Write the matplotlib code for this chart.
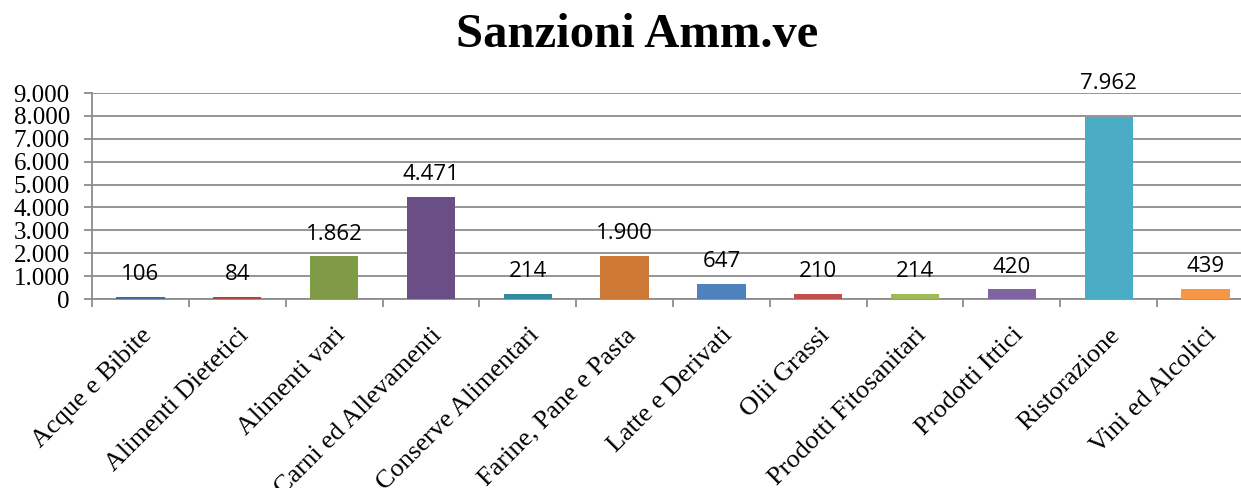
import matplotlib
matplotlib.use("Agg")
import matplotlib.pyplot as plt
from matplotlib.ticker import FuncFormatter

categories = ["Acque e Bibite", "Alimenti Dietetici", "Alimenti vari",
              "Carni ed Allevamenti", "Conserve Alimentari", "Farine, Pane e Pasta",
              "Latte e Derivati", "Olii Grassi", "Prodotti Fitosanitari",
              "Prodotti Ittici", "Ristorazione", "Vini ed Alcolici"]
values = [106, 84, 1862, 4471, 214, 1900, 647, 210, 214, 420, 7962, 439]
colors = ["#43699C", "#A9443F", "#7F9B48", "#6A4E86", "#338BA0", "#CD7935",
          "#4F81BD", "#C0504D", "#9BBB59", "#8064A2", "#4BACC6", "#F79646"]
title = "Sanzioni Amm.ve"

def fmt_it(v):
    return f"{int(round(v)):,}".replace(",", ".")

fig = plt.figure(figsize=(12.41, 4.88), dpi=100)
ax = fig.add_axes([92 / 1241, 1 - 299 / 488, (1254 - 92) / 1241, (299 - 93) / 488])

x = list(range(len(categories)))
ax.bar(x, values, width=0.5, color=colors, zorder=3)
ax.set_xlim(-0.5, len(categories) - 0.5)
ax.set_ylim(0, 9000)
ax.set_yticks(range(0, 9001, 1000))
ax.yaxis.set_major_formatter(FuncFormatter(lambda v, p: fmt_it(v)))
ax.grid(axis="y", color="#8C8C8C", linewidth=1.3, zorder=0)
ax.set_axisbelow(True)

for s in ["top", "right"]:
    ax.spines[s].set_visible(False)
for s in ["left", "bottom"]:
    ax.spines[s].set_color("#8C8C8C")
    ax.spines[s].set_linewidth(1.3)

ax.set_xticks([i - 0.5 for i in range(len(categories) + 1)], minor=False)
ax.set_xticklabels([])
ax.tick_params(axis="x", which="major", length=6, color="#8C8C8C", width=1.3)
ax.set_xticks(x, minor=True)
ax.set_xticklabels(categories, minor=True, rotation=45, ha="right", va="top",
                   rotation_mode="anchor", fontsize=19, family="Liberation Serif")
ax.tick_params(axis="x", which="minor", length=0, pad=18)
ax.tick_params(axis="y", length=6, color="#8C8C8C", width=1.3, labelsize=18,
               pad=10, labelfontfamily="Liberation Serif")

offsets = [16] * len(values)
offsets[10] = 24
for xi, v, off in zip(x, values, offsets):
    ax.annotate(fmt_it(v), (xi, v), xytext=(0, off), textcoords="offset points",
                ha="center", va="center", fontsize=16, family="Open Sans")

fig.text(637 / 1241, 1 - 35 / 488, title, ha="center", va="center",
         fontsize=35, fontweight="bold", family="Liberation Serif")

fig.savefig("out.png", dpi=100)
